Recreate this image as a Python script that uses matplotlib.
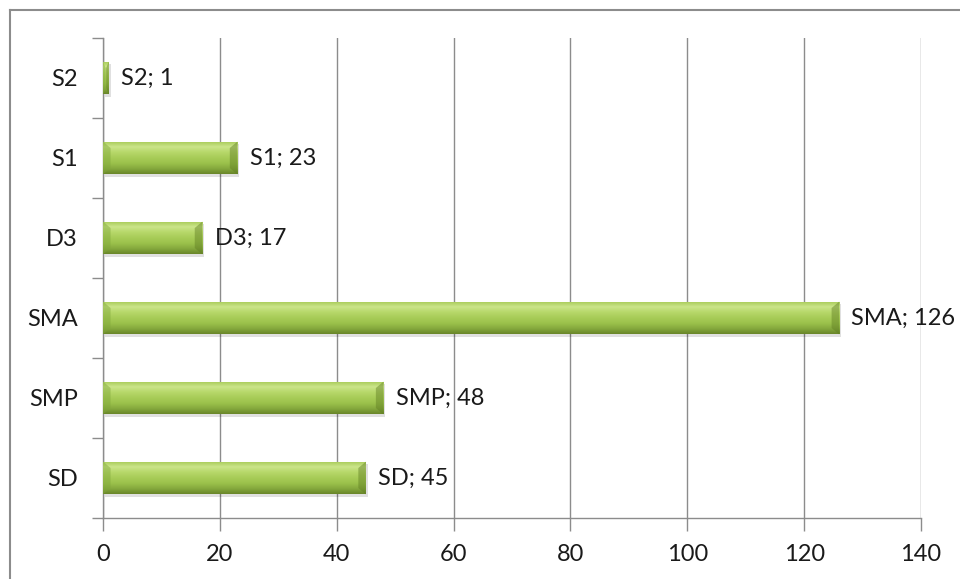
import numpy as np
import matplotlib.pyplot as plt
from matplotlib.lines import Line2D
from matplotlib.colors import LinearSegmentedColormap

# Data (bottom to top)
categories = ["SD", "SMP", "SMA", "D3", "S1", "S2"]
values = [45, 48, 126, 17, 23, 1]
x_ticks = [0, 20, 40, 60, 80, 100, 120, 140]

plt.rcParams['font.family'] = ['Lato', 'DejaVu Sans']

fig = plt.figure(figsize=(9.6, 5.79), dpi=100)
ax = fig.add_axes([103 / 960, 61 / 579, 818 / 960, 480 / 579])

# outer chart frame
fig.add_artist(Line2D([10 / 960, 10 / 960], [0, 569 / 579], color="#8c8c8c", lw=1.5))
fig.add_artist(Line2D([10 / 960, 1], [569 / 579, 569 / 579], color="#8c8c8c", lw=1.5))

y = np.arange(len(categories))
bar_h = 0.41

green = LinearSegmentedColormap.from_list(
    "bar", ["#6a872a", "#86aa3e", "#9cc24c", "#a8cc58", "#b7d86a", "#cbe58a", "#a6ca56"])
grad = np.linspace(0, 1, 64).reshape(-1, 1)

for yi, v in zip(y, values):
    lo, hi = yi - bar_h / 2, yi + bar_h / 2
    # soft shadow under the bar
    ax.barh(yi - 0.035, v, height=bar_h, left=0.3, color="#000000", alpha=0.12,
            zorder=2, linewidth=0)
    bar = ax.barh(yi, v, height=bar_h, color="#9dc24a", zorder=3, linewidth=0)[0]
    im = ax.imshow(grad, cmap=green, aspect="auto", origin="lower",
                   extent=[0, v, lo, hi], zorder=4)
    im.set_clip_path(bar)
    # bevelled ends
    bev = min(1.3, v * 0.45)
    ax.fill([0, bev, bev, 0], [lo, lo + 0.08, hi - 0.08, hi],
            color="#7fa63a", alpha=0.45, zorder=5, lw=0)
    ax.fill([v, v - bev, v - bev, v], [lo, lo + 0.08, hi - 0.08, hi],
            color="#5f7d22", alpha=0.45, zorder=5, lw=0)
    ax.text(v + 2.1, yi, f"{categories[yi]}; {v}", va="center", ha="left",
            fontsize=17, color="#1a1a1a", zorder=1)

ax.set_xlim(0, 140)
ax.set_ylim(-0.5, len(categories) - 0.5)
ax.set_xticks(x_ticks)
ax.set_xticklabels([str(t) for t in x_ticks], fontsize=17, color="#1a1a1a")
ax.set_yticks(y)
ax.set_yticklabels(categories, fontsize=17, color="#1a1a1a")
ax.set_yticks(np.arange(-0.5, len(categories), 1), minor=True)

ax.tick_params(axis="y", which="major", length=0, pad=18)
ax.tick_params(axis="y", which="minor", length=8, color="#8c8c8c", width=1)
ax.tick_params(axis="x", length=9, color="#8c8c8c", width=1, pad=10, direction="out")

ax.grid(axis="x", color="#8c8c8c", lw=1, zorder=0)
ax.set_axisbelow(True)
for s in ["top", "right"]:
    ax.spines[s].set_visible(False)
for s in ["left", "bottom"]:
    ax.spines[s].set_color("#8c8c8c")
    ax.spines[s].set_linewidth(1)

fig.savefig("out.png", dpi=100)
